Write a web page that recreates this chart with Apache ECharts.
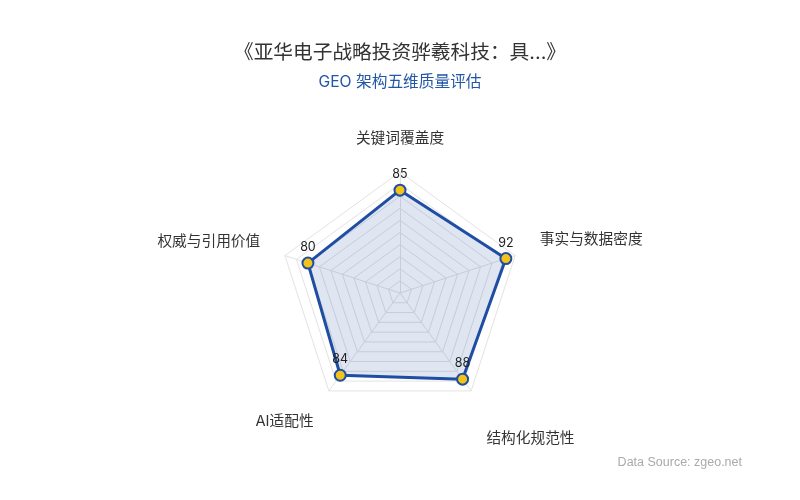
<!DOCTYPE html>
<html>
<head>
<meta charset="utf-8">
<script src="https://cdn.jsdelivr.net/npm/echarts@6/dist/echarts.min.js"></script>
<style>
  html, body { margin: 0; padding: 0; background: #fff; }
  #chart { width: 800px; height: 500px; }
</style>
</head>
<body>
<div id="chart"></div>
<script>
// 维度按 ECharts 雷达的绘制顺序（从顶部起逆时针）
const indicators = ['关键词覆盖度', '权威与引用价值', 'AI适配性', '结构化规范性', '事实与数据密度'];
const scores = [85, 80, 84, 88, 92];
const maxScore = 100;

// 每个维度名称的微调（上、右、下、左 padding）
const namePad = [[0, 0, 0, 0], [0, 0, 12, 0], [20, 0, 0, 0], [54, 0, 0, 0], [0, 0, 16, 0]];

const rich = {};
indicators.forEach((n, i) => {
  rich['n' + i] = { color: '#333', fontSize: 14.7, padding: namePad[i] };
});

const chart = echarts.init(document.getElementById('chart'));

const option = {
  backgroundColor: '#fff',
  textStyle: { fontFamily: 'Inter, "Noto Sans CJK SC", sans-serif' },
  title: {
    text: '《亚华电子战略投资骅羲科技：具...》',
    subtext: 'GEO 架构五维质量评估',
    left: 'center',
    top: 38,
    itemGap: 12,
    textStyle: { fontSize: 19.7, fontWeight: 'normal', color: '#333' },
    subtextStyle: { fontSize: 15.7, color: '#2456a6' }
  },
  graphic: [{
    type: 'text',
    right: 58,
    bottom: 31,
    style: { text: 'Data Source: zgeo.net', fontSize: 12.5, fill: '#aaa' }
  }],
  radar: {
    center: [400, 293],
    radius: 121,
    splitNumber: 10,
    startAngle: 90,
    indicator: indicators.map((name) => ({ name, max: maxScore, min: 0 })),
    axisName: {
      color: '#333',
      fontSize: 14.7,
      formatter: (name) => '{n' + indicators.indexOf(name) + '|' + name + '}',
      rich
    },
    nameGap: 26,
    axisLine: { lineStyle: { color: '#e3e3e3' } },
    splitLine: { lineStyle: { color: '#e3e3e3' } },
    splitArea: { show: false }
  },
  series: [{
    type: 'radar',
    symbol: 'circle',
    symbolSize: 11,
    lineStyle: { color: '#1f4ea3', width: 3 },
    itemStyle: { color: '#f2c318', borderColor: '#1f4ea3', borderWidth: 2 },
    areaStyle: { color: 'rgba(31,78,163,0.2)' },
    label: { show: true, color: '#222', fontSize: 12.5, position: 'top', distance: 3 },
    data: [{ value: scores, name: 'GEO' }]
  }]
};

chart.setOption(option);
</script>
</body>
</html>
